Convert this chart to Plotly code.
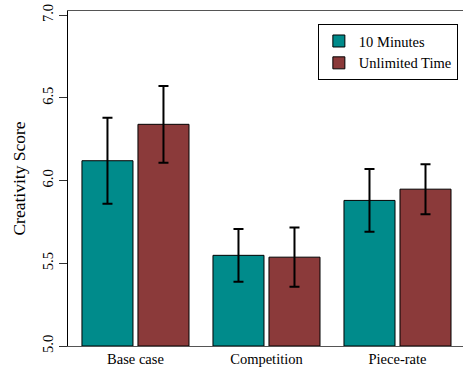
import plotly.graph_objects as go

categories = ["Base case", "Competition", "Piece-rate"]
series_names = ["10 Minutes", "Unlimited Time"]
means_10min = [6.12, 5.548, 5.88]
err_10min = [0.26, 0.159, 0.19]
means_unlim = [6.34, 5.537, 5.948]
err_unlim = [0.232, 0.179, 0.151]
y_ticks = [5.0, 5.5, 6.0, 6.5, 7.0]
y_tick_labels = ["5.0", "5.5", "6.0", "6.5", "7.0"]

colors = ["#008B8B", "#8B3A3A"]
font_family = "Liberation Serif, Times New Roman, serif"

fig = go.Figure()
for name, vals, errs, col in [
    (series_names[0], means_10min, err_10min, colors[0]),
    (series_names[1], means_unlim, err_unlim, colors[1]),
]:
    fig.add_trace(go.Bar(
        x=categories, y=[v - 5.0 for v in vals], base=5.0, name=name,
        marker=dict(color=col, line=dict(color="black", width=1)),
        error_y=dict(type="data", array=errs, visible=True,
                     color="black", thickness=2, width=5),
    ))

fig.update_layout(
    width=463, height=368,
    margin=dict(l=68, r=0, t=11, b=22),
    barmode="group", bargap=0.145, bargroupgap=0.089,
    plot_bgcolor="white", paper_bgcolor="white",
    font=dict(family=font_family, color="black", size=14.5),
    showlegend=True,
    legend=dict(x=0.987, y=0.961, xanchor="right", yanchor="top",
                bordercolor="black", borderwidth=1, bgcolor="white",
                font=dict(size=14.5, family=font_family), tracegroupgap=0),
    xaxis=dict(range=[-0.515, 2.5], showline=True, linecolor="#555",
               linewidth=1, mirror=True, ticks="", showgrid=False,
               automargin=False,
               tickfont=dict(size=14.5, family=font_family)),
    yaxis=dict(range=[5.0, 7.025], tickvals=y_ticks, ticktext=y_tick_labels,
               showline=True, linecolor="black", linewidth=1, ticks="outside",
               ticklen=8, tickcolor="#333", showgrid=False, zeroline=False,
               automargin=False,
               tickangle=-90, tickfont=dict(size=14.5, family=font_family),
               title=dict(text="Creativity Score", font=dict(size=17.5, family=font_family),
                          standoff=10)),
)

fig.write_html("out.html", config={"displayModeBar": False},
               post_script="document.body.style.margin='0';document.body.style.padding='0';")
